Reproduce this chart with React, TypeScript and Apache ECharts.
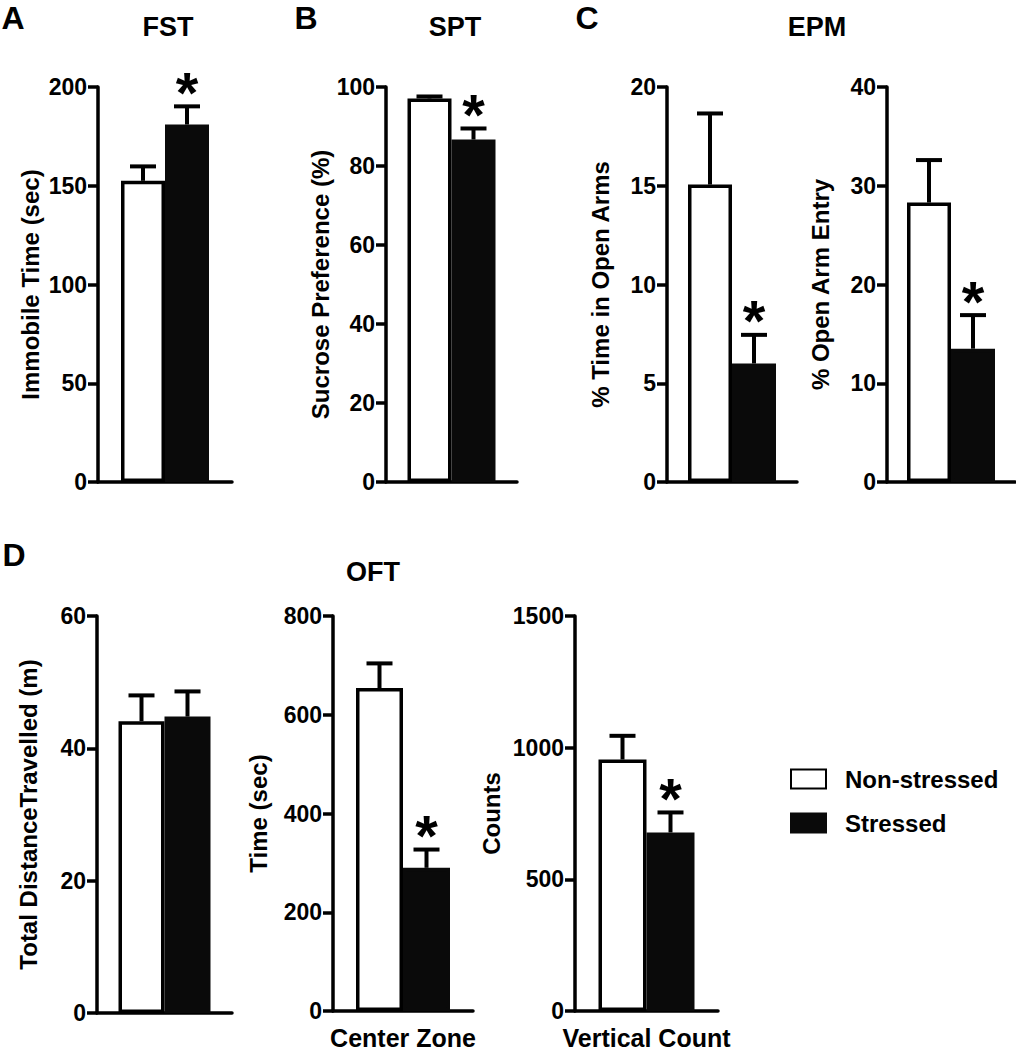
import React, { useEffect, useRef } from "react";
import * as echarts from "echarts";

const FONT = '"Liberation Sans", Arial, Helvetica, sans-serif';

const groups = ["Non-stressed", "Stressed"];

// A: FST
const fstMean = [152.5, 181];
const fstSem = [7.3, 9.2];
const fstStar = [0, 1];
// B: SPT
const sptMean = [97.1, 86.7];
const sptSem = [0.5, 2.8];
const sptStar = [0, 1];
// C: EPM
const epmTimeMean = [15.06, 6.0];
const epmTimeSem = [3.6, 1.45];
const epmTimeStar = [0, 1];
const epmEntryMean = [28.3, 13.5];
const epmEntrySem = [4.3, 3.4];
const epmEntryStar = [0, 1];
// D: OFT
const oftDistMean = [44.1, 44.8];
const oftDistSem = [3.9, 3.8];
const oftDistStar = [0, 0];
const oftCenterMean = [654, 290];
const oftCenterSem = [50, 37];
const oftCenterStar = [0, 1];
const oftVertMean = [955, 678];
const oftVertSem = [90, 76];
const oftVertStar = [0, 1];

const panels = [
  { grid: { left: 98, top: 87, width: 134, height: 395 }, max: 200, interval: 50, name: "Immobile Time (sec)", nameGap: 56, mean: fstMean, sem: fstSem, star: fstStar, xLabel: "", bw: 44 },
  { grid: { left: 386, top: 87, width: 131, height: 395 }, max: 100, interval: 20, name: "Sucrose Preference (%)", nameGap: 54, mean: sptMean, sem: sptSem, star: sptStar, xLabel: "", bw: 44 },
  { grid: { left: 667, top: 87, width: 130, height: 395 }, max: 20, interval: 5, name: "% Time in Open Arms", nameGap: 55, mean: epmTimeMean, sem: epmTimeSem, star: epmTimeStar, xLabel: "", bw: 44 },
  { grid: { left: 887, top: 87, width: 128, height: 395 }, max: 40, interval: 10, name: "% Open Arm Entry", nameGap: 55, mean: epmEntryMean, sem: epmEntrySem, star: epmEntryStar, xLabel: "", bw: 44 },
  { grid: { left: 97, top: 616, width: 135, height: 397 }, max: 60, interval: 20, name: "Total DistanceTravelled (m)", nameGap: 57, mean: oftDistMean, sem: oftDistSem, star: oftDistStar, xLabel: "", bw: 46 },
  { grid: { left: 333, top: 616, width: 140, height: 397 }, max: 800, interval: 200, name: "Time (sec)", nameGap: 63, mean: oftCenterMean, sem: oftCenterSem, star: oftCenterStar, xLabel: "Center Zone", bw: 47 },
  { grid: { left: 575, top: 616, width: 143, height: 397 }, max: 1500, interval: 500, name: "Counts", nameGap: 72, mean: oftVertMean, sem: oftVertSem, star: oftVertStar, xLabel: "Vertical Count", bw: 48 },
];

const texts = [
  { t: "A", x: 13, y: 18, s: 32 },
  { t: "B", x: 306, y: 18, s: 32 },
  { t: "C", x: 587, y: 18, s: 32 },
  { t: "D", x: 14, y: 555, s: 32 },
  { t: "FST", x: 168, y: 27, s: 27 },
  { t: "SPT", x: 455, y: 27, s: 27 },
  { t: "EPM", x: 817, y: 27, s: 27 },
  { t: "OFT", x: 373, y: 572, s: 27 },
];

function buildOption() {
  const grid: any[] = [];
  const xAxis: any[] = [];
  const yAxis: any[] = [];
  const series: any[] = [];
  panels.forEach((p, i) => {
    grid.push({ ...p.grid, containLabel: false });
    xAxis.push({
      type: "category",
      gridIndex: i,
      data: [p.xLabel],
      axisTick: { show: false },
      axisLine: { lineStyle: { color: "#000", width: 3.5 } },
      axisLabel: { color: "#000", fontFamily: FONT, fontWeight: "bold", fontSize: 25, margin: 14 },
      splitLine: { show: false },
    });
    yAxis.push({
      type: "value",
      gridIndex: i,
      min: 0,
      max: p.max,
      interval: p.interval,
      name: p.name,
      nameLocation: "middle",
      nameGap: p.nameGap,
      nameRotate: 90,
      nameTextStyle: { color: "#000", fontFamily: FONT, fontWeight: "bold", fontSize: 24 },
      axisLine: { show: true, lineStyle: { color: "#000", width: 3.5 } },
      axisTick: { show: true, length: 10, lineStyle: { color: "#000", width: 3.5 } },
      axisLabel: {
        color: "#000",
        fontFamily: FONT,
        fontWeight: "bold",
        fontSize: 23,
        margin: 11,
        formatter: (v: number) => String(v),
      },
      splitLine: { show: false },
    });
    series.push({
      type: "bar",
      name: groups[0],
      xAxisIndex: i,
      yAxisIndex: i,
      data: [p.mean[0]],
      barWidth: p.bw,
      barGap: "0%",
      itemStyle: { color: "#fff", borderColor: "#000", borderWidth: 3.5 },
      z: 2,
    });
    series.push({
      type: "bar",
      name: groups[1],
      xAxisIndex: i,
      yAxisIndex: i,
      data: [p.mean[1]],
      barWidth: p.bw,
      barGap: "0%",
      itemStyle: { color: "#0a0a0a", borderColor: "#0a0a0a", borderWidth: 3.5 },
      z: 2,
    });
    const bw = p.bw;
    series.push({
      type: "custom",
      xAxisIndex: i,
      yAxisIndex: i,
      clip: false,
      z: 5,
      silent: true,
      data: [
        [0, p.mean[0], p.sem[0], -1, p.star[0]],
        [0, p.mean[1], p.sem[1], 1, p.star[1]],
      ],
      renderItem: (params: any, api: any) => {
        const cat = api.value(0);
        const mean = api.value(1);
        const sem = api.value(2);
        const side = api.value(3);
        const star = api.value(4);
        const base = api.coord([cat, mean]);
        const top = api.coord([cat, mean + sem]);
        const x = base[0] + (side * bw) / 2;
        const children: any[] = [
          { type: "line", shape: { x1: x, y1: base[1], x2: x, y2: top[1] }, style: { stroke: "#000", lineWidth: 4 } },
          { type: "line", shape: { x1: x - 13, y1: top[1], x2: x + 13, y2: top[1] }, style: { stroke: "#000", lineWidth: 4 } },
        ];
        if (star) {
          children.push({
            type: "text",
            x: x,
            y: top[1] - 14,
            style: { text: "*", fill: "#000", font: `bold 58px ${FONT}`, textAlign: "center", textVerticalAlign: "middle" },
          });
        }
        return { type: "group", children };
      },
    });
  });

  const graphic = texts.map((g) => ({
    type: "text",
    x: g.x,
    y: g.y,
    style: { text: g.t, fill: "#000", font: `bold ${g.s}px ${FONT}`, textAlign: "center", textVerticalAlign: "middle" },
  }));

  return {
    animation: false,
    backgroundColor: "#fff",
    grid,
    xAxis,
    yAxis,
    series,
    graphic,
    legend: {
      data: groups,
      orient: "vertical",
      left: 790,
      top: 767,
      itemWidth: 35,
      itemHeight: 19,
      itemGap: 20,
      padding: 0,
      icon: "rect",
      selectedMode: false,
      textStyle: { color: "#000", fontFamily: FONT, fontWeight: "bold", fontSize: 24, padding: [0, 0, 0, 14] },
    },
  };
}

export default function App() {
  const ref = useRef<HTMLDivElement>(null);
  useEffect(() => {
    if (!ref.current) return;
    const chart = echarts.init(ref.current, undefined, { renderer: "svg" });
    chart.setOption(buildOption() as any);
    return () => chart.dispose();
  }, []);
  return (
    <div
      ref={ref}
      style={{ position: "fixed", left: 0, top: 0, width: 1016, height: 1050, background: "#fff" }}
    />
  );
}
